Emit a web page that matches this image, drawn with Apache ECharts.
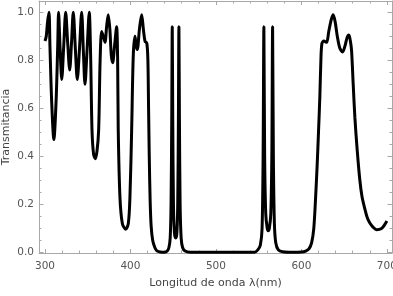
<!DOCTYPE html>
<html>
<head>
<meta charset="utf-8">
<script src="https://cdn.jsdelivr.net/npm/echarts@6/dist/echarts.min.js"></script>
<style>html,body{margin:0;padding:0;background:#fff}#c{width:393px;height:296px}</style>
</head>
<body>
<div id="c"></div>
<script>
// wavelength (nm)
const wavelength = [300,301.5,303,304.7,305.8,307.8,310.4,313,314.9,315.9,
317.7,319.6,321.8,324.2,326.6,328.9,331,333.1,335.5,337.8,340.4,342.9,345,346.8,349.2,351.8,
353.4,355,356.8,358.8,360.8,362.8,364.5,366.3,368.2,370.2,372.1,374,375.9,377.6,379.2,381.4,383.8,
385,385.7,387.7,390.5,394.4,397.5,399.4,401.4,403.3,405.3,406.7,408,410.5,413.1,415.1,417,419.2,
420.4,421.2,422,423,424.2,426,428.5,431,435,440,
443,445,446.5,447.5,448.3,448.9,449.5,450.3,451.5,453,454.3,455.3,456.1,456.7,457.3,458.1,459.3,461,464,470,
545,549,552,554,555.2,556.1,557,558.3,560,561.2,562.5,564.2,565.4,566.3,567.2,568.4,570,573,578,590,
600,605,609,612,614.5,616.5,618.4,620,621.6,622.8,624,626.3,629.5,632,635,637.2,639.5,642,645,648.2,
651,653.5,655.6,657.3,658.7,660.6,662.6,665.3,668.4,671,674.3,677,680.1,684,688,693.8,698,700];
// transmittance
const transmittance = [0.88,0.9,0.96,1.0,0.86,0.63,0.47,0.63,0.86,1.0,
0.85,0.72,0.85,1.0,0.87,0.76,0.87,1.0,0.85,0.72,0.85,1.0,0.83,0.70,0.84,1.0,
0.82,0.51,0.41,0.39,0.42,0.51,0.8,0.92,0.9,0.875,0.94,0.99,0.93,0.82,0.79,0.86,0.94,
0.8,0.51,0.23,0.12,0.096,0.12,0.23,0.51,0.82,0.9,0.86,0.845,0.93,0.99,0.93,0.88,0.87,
0.8,0.6,0.4,0.22,0.11,0.05,0.02,0.006,0.001,0,
0.005,0.02,0.06,0.2,0.55,0.94,0.55,0.2,0.08,0.06,0.08,0.2,0.55,0.94,0.55,0.2,0.06,0.02,0.005,0,
0,0.01,0.03,0.1,0.4,0.94,0.4,0.16,0.1,0.09,0.1,0.16,0.4,0.94,0.4,0.12,0.04,0.01,0.002,0,
0.001,0.005,0.015,0.04,0.1,0.22,0.36,0.5,0.65,0.8,0.87,0.88,0.875,0.92,0.97,0.99,0.96,0.9,0.85,0.835,
0.86,0.895,0.905,0.88,0.84,0.7,0.56,0.425,0.3,0.23,0.18,0.145,0.122,0.104,0.094,0.099,0.118,0.13];

const xMajorTicks = [300,400,500,600,700];
const xMinorTicks = [320,340,360,380,420,440,460,480,520,540,560,580,620,640,660,680];
const yMajorTicks = [0,0.2,0.4,0.6,0.8,1.0];
const yMinorTicks = [0.05,0.1,0.15,0.25,0.3,0.35,0.45,0.5,0.55,0.65,0.7,0.75,0.85,0.9,0.95];

const FRAME = '#a8a8a8';
const FONT = 'DejaVu Sans';
const X_MIN = 293, X_MAX = 706, Y_MIN = -0.003, Y_MAX = 1.047;

function xAx(pos, ticks, len, opts) {
  return Object.assign({
    type: 'value', position: pos, min: X_MIN, max: X_MAX,
    axisLine: { show: false, onZero: false },
    axisTick: { show: true, inside: true, length: len, customValues: ticks, lineStyle: { color: FRAME } },
    axisLabel: { show: false },
    splitLine: { show: false }
  }, opts || {});
}
function yAx(pos, ticks, len, opts) {
  return Object.assign({
    type: 'value', position: pos, min: Y_MIN, max: Y_MAX,
    axisLine: { show: false, onZero: false },
    axisTick: { show: true, inside: true, length: len, customValues: ticks, lineStyle: { color: FRAME } },
    axisLabel: { show: false },
    splitLine: { show: false }
  }, opts || {});
}

const chart = echarts.init(document.getElementById('c'), null, { renderer: 'canvas' });
chart.setOption({
  animation: false,
  grid: { left: 39, right: 1, top: 1, bottom: 43, containLabel: false, outerBoundsMode: 'none' },
  xAxis: [
    xAx('bottom', xMajorTicks, 4, {
      axisLine: { show: true, onZero: false, lineStyle: { color: FRAME, width: 1 } },
      axisLabel: { show: true, customValues: xMajorTicks, color: '#555', fontFamily: FONT, fontSize: 10.5, margin: 8 },
      name: 'Longitud de onda λ(nm)', nameLocation: 'middle', nameGap: 25, nameMoveOverlap: false,
      nameTextStyle: { color: '#444', fontFamily: FONT, fontSize: 11 }
    }),
    xAx('bottom', xMinorTicks, 2.5),
    xAx('top', xMajorTicks, 4, { axisLine: { show: true, onZero: false, lineStyle: { color: FRAME, width: 1 } } }),
    xAx('top', xMinorTicks, 2.5)
  ],
  yAxis: [
    yAx('left', yMajorTicks, 4.5, {
      axisLine: { show: true, onZero: false, lineStyle: { color: FRAME, width: 1 } },
      axisLabel: { show: true, customValues: yMajorTicks, color: '#555', fontFamily: FONT, fontSize: 10.5, margin: 5,
        formatter: v => v.toFixed(1) },
      name: 'Transmitancia', nameLocation: 'middle', nameGap: 27, nameMoveOverlap: false,
      nameTextStyle: { color: '#444', fontFamily: FONT, fontSize: 11 }
    }),
    yAx('left', yMinorTicks, 2.5),
    yAx('right', yMajorTicks, 4.5, { axisLine: { show: true, onZero: false, lineStyle: { color: FRAME, width: 1 } } }),
    yAx('right', yMinorTicks, 2.5)
  ],
  series: [{
    type: 'line',
    xAxisIndex: 0, yAxisIndex: 0,
    data: wavelength.map((w, i) => [w, transmittance[i]]),
    showSymbol: false,
    smooth: 0.3,
    clip: false,
    lineStyle: { color: '#000', width: 3 }
  }]
});
</script>
</body>
</html>
